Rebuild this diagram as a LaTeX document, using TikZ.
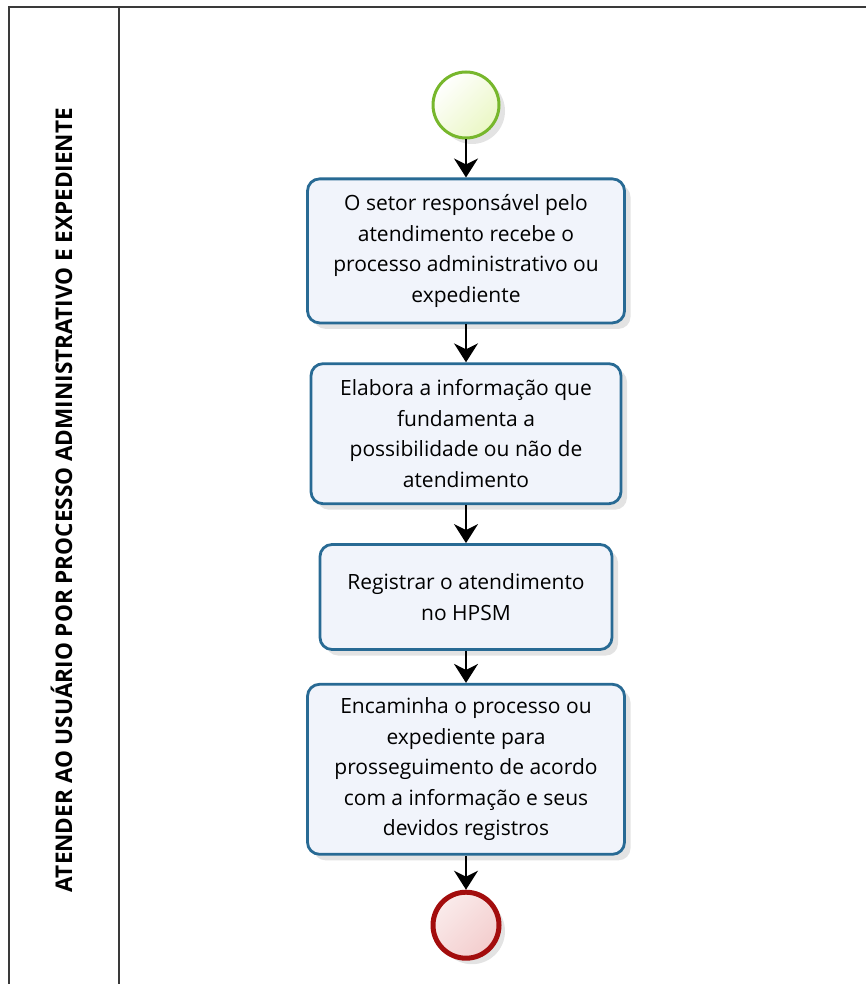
\documentclass[tikz,border=0pt]{standalone}
\usepackage{fontspec}
\setsansfont{Open Sans}
\usepackage{graphicx}
\usetikzlibrary{shapes.geometric, arrows.meta, positioning, shadows}

\definecolor{taskline}{HTML}{286A94}
\definecolor{taskfill}{HTML}{F1F4FB}
\definecolor{startline}{HTML}{77B72C}
\definecolor{startfill}{HTML}{EAF7C4}
\definecolor{endline}{HTML}{A30D0D}
\definecolor{endfill}{HTML}{F3CDCD}
\definecolor{poolline}{HTML}{3A3A3A}

\begin{document}
\begin{tikzpicture}[
    x=1pt, y=1pt,
    task/.style={rectangle, rounded corners=12pt, draw=taskline, line width=2.8pt, fill=taskfill, minimum width=317pt, align=center,
        font=\sffamily\fontsize{21}{30.5}\selectfont, drop shadow={opacity=0.22, shadow xshift=6pt, shadow yshift=-6pt}},
    startev/.style={circle, draw=startline, line width=3pt, top color=white, bottom color=startfill, shading angle=45, minimum size=66pt, inner sep=0pt,
        drop shadow={opacity=0.22, shadow xshift=6pt, shadow yshift=-6pt}},
    endev/.style={circle, draw=endline, line width=5pt, top color=white!60!endfill, bottom color=endfill, shading angle=45, minimum size=66pt, inner sep=0pt,
        drop shadow={opacity=0.22, shadow xshift=6pt, shadow yshift=-6pt}},
    flow/.style={-{Stealth[length=19pt, width=24pt, inset=6pt]}, line width=1.6pt},
    node distance=38pt
]
\useasboundingbox (0,0) rectangle (866,-984);

% Pool and lane
\draw[poolline, line width=2pt] (866,-7) -- (9,-7) -- (9,-984);
\draw[poolline, line width=2pt] (119,-7) -- (119,-984);
\node[rotate=90, anchor=base, font=\sffamily\bfseries\fontsize{23}{26}\selectfont] (lanelabel) at (72,-500)
    {\resizebox{784pt}{\height}{ATENDER AO USUÁRIO POR PROCESSO ADMINISTRATIVO E EXPEDIENTE}};

% Nodes
\node[startev] (start) at (466,-105) {};
\node[task, below=of start, minimum height=144pt] (recebe) {O setor responsável pelo\\atendimento recebe o\\processo administrativo ou\\expediente};
\node[task, below=of recebe, minimum width=310pt, minimum height=140pt] (elabora) {Elabora a informação que\\fundamenta a\\possibilidade ou não de\\atendimento};
\node[task, below=of elabora, minimum width=292pt, minimum height=105pt] (registra) {Registrar o atendimento\\no HPSM};
\node[task, below=of registra, yshift=6pt, minimum height=170pt] (encaminha) {Encaminha o processo ou\\expediente para\\prosseguimento de acordo\\com a informação e seus\\devidos registros};
\node[endev, below=of encaminha, yshift=4pt] (fim) {};

% Flows
\draw[flow] (start) -- (recebe);
\draw[flow] (recebe) -- (elabora);
\draw[flow] (elabora) -- (registra);
\draw[flow] (registra) -- (encaminha);
\draw[flow] (encaminha) -- (fim);

\end{tikzpicture}
\end{document}
